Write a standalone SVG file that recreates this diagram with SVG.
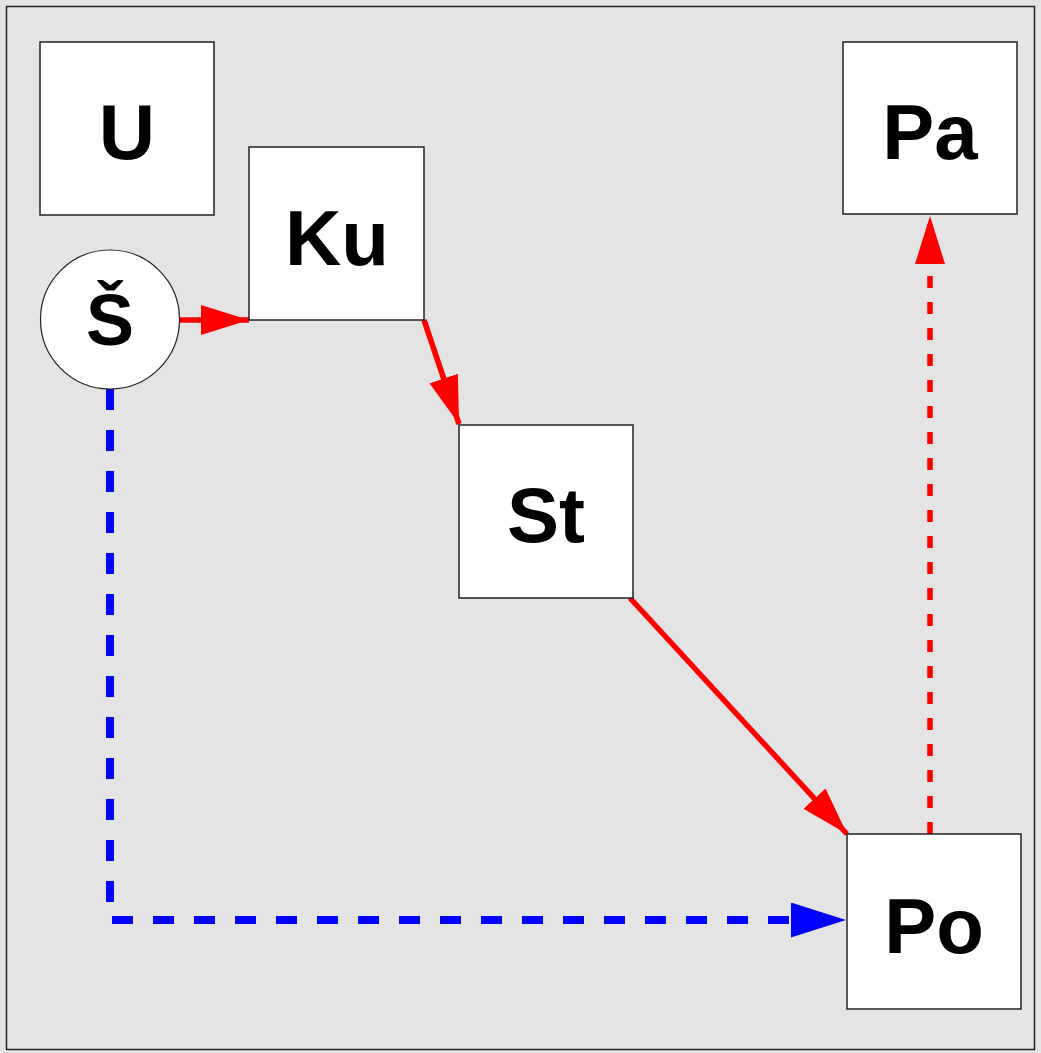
<svg xmlns="http://www.w3.org/2000/svg" width="1041" height="1053" viewBox="0 0 1041 1053">
<style>
.box{fill:#fff;stroke:#222;stroke-width:1.5}
.lbl{font-family:"Liberation Sans",Arial,sans-serif;font-weight:bold;font-size:78px;fill:#000;text-anchor:middle}
.red{stroke:#f00;stroke-width:5.5;fill:none}
</style>
<defs>
<marker id="ar" markerUnits="userSpaceOnUse" markerWidth="50" markerHeight="32" refX="48" refY="15" orient="auto" viewBox="0 0 50 32">
<path d="M0,0 L48,15 L0,30 Z" fill="#f00"/>
</marker>
<marker id="ab" markerUnits="userSpaceOnUse" markerWidth="57" markerHeight="37" refX="55" refY="17.5" orient="auto" viewBox="0 0 57 37">
<path d="M0,0 L55,17.5 L0,35 Z" fill="#00f"/>
</marker>
</defs>
<rect x="0" y="0" width="1041" height="1053" fill="#e4e4e4"/>
<rect x="6.5" y="6.5" width="1028" height="1043" fill="none" stroke="#222" stroke-width="1.5"/>
<g id="connectors">
<line class="red" x1="179" y1="320" x2="249" y2="320" marker-end="url(#ar)"/>
<line class="red" x1="424" y1="320" x2="459" y2="424" marker-end="url(#ar)"/>
<line class="red" x1="630" y1="598" x2="847" y2="834" marker-end="url(#ar)"/>
<line class="red" x1="930" y1="834" x2="930" y2="216" stroke-dasharray="12 14" marker-end="url(#ar)"/>
<polyline points="110,389 110,920 846,920" fill="none" stroke="#00f" stroke-width="8" stroke-dasharray="21 20" marker-end="url(#ab)"/>
</g>
<g id="node-U"><rect class="box" x="40" y="42" width="174" height="173"/><text class="lbl" x="127" y="159">U</text></g>
<g id="node-Ku"><rect class="box" x="249" y="147" width="175" height="173"/><text class="lbl" x="337" y="265">Ku</text></g>
<g id="node-St"><rect class="box" x="459" y="425" width="174" height="173"/><text class="lbl" x="546" y="542">St</text></g>
<g id="node-Pa"><rect class="box" x="843" y="42" width="174" height="172"/><text class="lbl" x="930" y="159">Pa</text></g>
<g id="node-Po"><rect class="box" x="847" y="834" width="174" height="175"/><text class="lbl" x="934" y="953">Po</text></g>
<g id="node-S"><circle cx="110" cy="319.5" r="69.5" fill="#fff" stroke="#222" stroke-width="1.2"/><text class="lbl" x="110" y="345" style="font-size:72px">Š</text></g>
</svg>
